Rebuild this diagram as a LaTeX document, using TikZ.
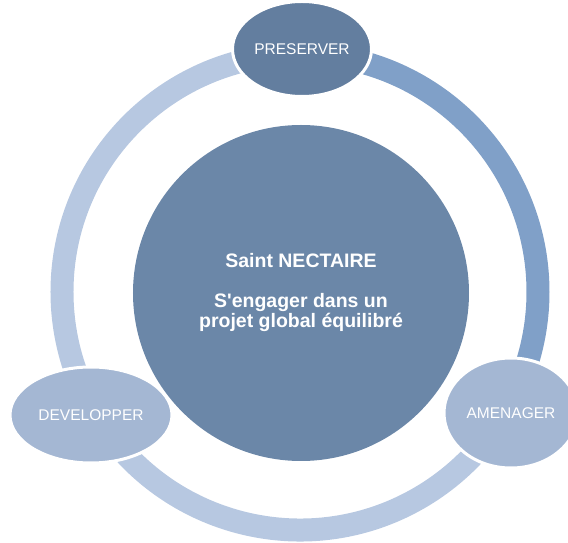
\documentclass[tikz,border=0pt]{standalone}
\usepackage{fontspec}
\setmainfont{Liberation Sans}
\usetikzlibrary{shapes.geometric}
\definecolor{hubblue}{HTML}{6B87A8}
\definecolor{topblue}{HTML}{637E9F}
\definecolor{sideblue}{HTML}{A4B7D3}
\definecolor{ringlight}{HTML}{B7C8E1}
\definecolor{ringdark}{HTML}{80A0C8}
\begin{document}
\begin{tikzpicture}[x=1pt,y=1pt,
                ringarc/.style={line width=23pt},
                stage/.style={ellipse,draw=white,line width=3pt,text=white,inner sep=0pt,font=\fontsize{15.5}{18}\selectfont}]
                \useasboundingbox (-300,-251) rectangle (268,292);
                \node[circle,fill=hubblue,minimum size=336pt,inner sep=0pt,text=white,align=center,font=\bfseries\fontsize{19.5}{20.5}\selectfont] (hub) at (1,-1) {Saint NECTAIRE\\[19pt]S\textquotesingle engager dans un\\projet global équilibré};

                \coordinate (R1) at (90:238); \coordinate (R2) at (210:238); \coordinate (R3) at (330:238);
                \draw[ringarc,ringlight] (R1) arc[start angle=90,end angle=210,radius=238pt];
                \draw[ringarc,ringlight] (R2) arc[start angle=210,end angle=330,radius=238pt];
                \draw[ringarc,ringdark] (R1) arc[start angle=90,end angle=-30,radius=238pt];

                \node[stage,fill=topblue,minimum width=139pt,minimum height=95pt] (P) at (2,243) {PRESERVER};
                \node[stage,fill=sideblue,minimum width=162pt,minimum height=96pt] (D) at (-209,-123) {DEVELOPPER};
                \node[stage,fill=sideblue,minimum width=134pt,minimum height=110pt] (A) at (211,-121) {AMENAGER};
\end{tikzpicture}
\end{document}
